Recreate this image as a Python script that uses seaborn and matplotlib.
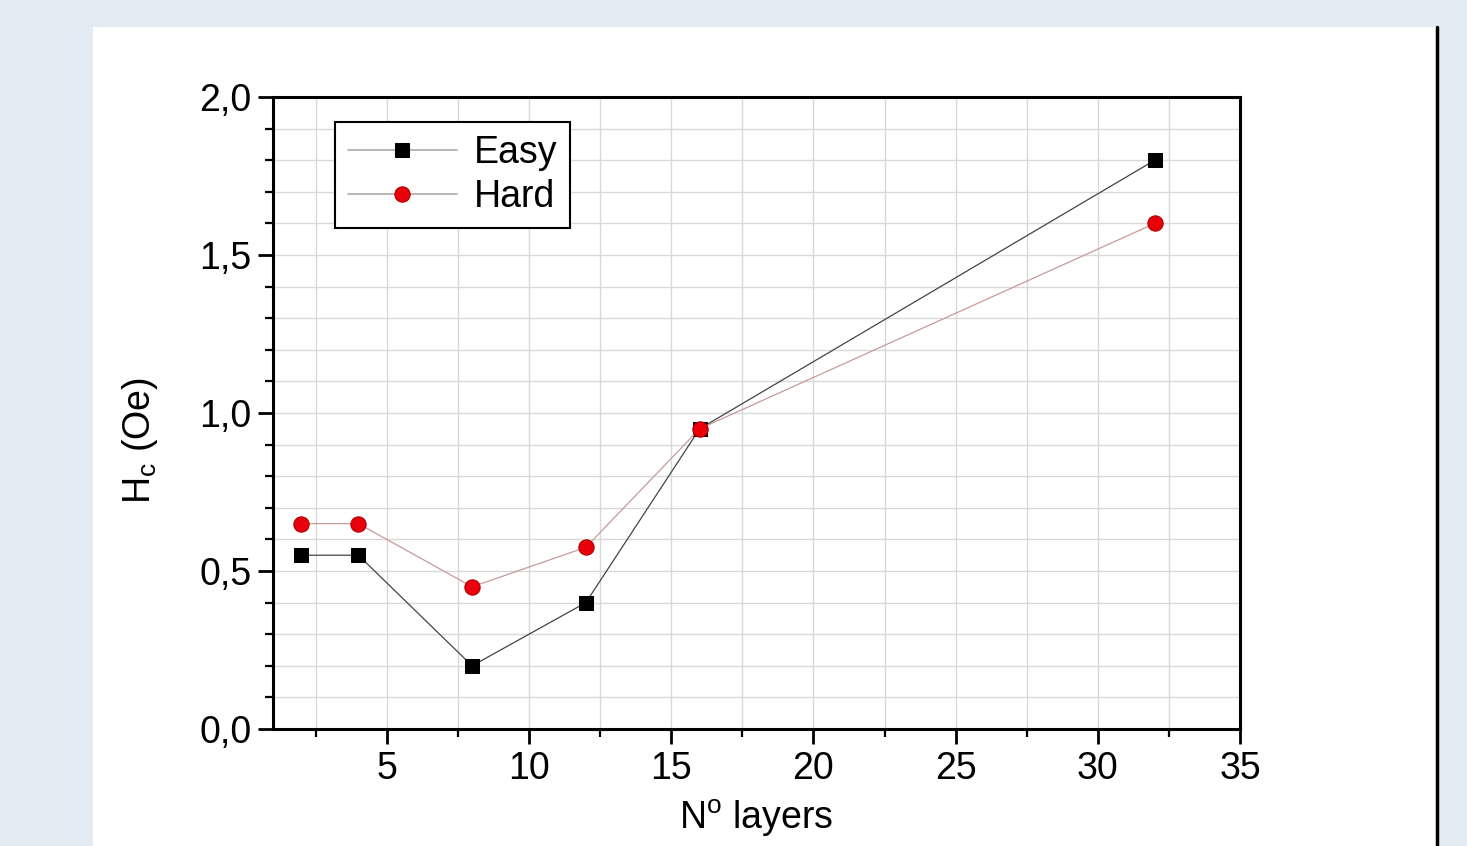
import numpy as np
import pandas as pd
import matplotlib
matplotlib.use('Agg')
import matplotlib.pyplot as plt
from matplotlib.patches import Rectangle
from matplotlib.ticker import MultipleLocator, FuncFormatter
import seaborn as sns

# data
layers = [2, 4, 8, 12, 16, 32]
hc_easy = [0.55, 0.55, 0.20, 0.40, 0.95, 1.80]
hc_hard = [0.65, 0.65, 0.45, 0.575, 0.95, 1.60]

sns.set_style('white')
plt.rcParams['font.family'] = ['Liberation Sans', 'DejaVu Sans']
plt.rcParams['mathtext.fontset'] = 'custom'
plt.rcParams['mathtext.rm'] = 'Liberation Sans'
plt.rcParams['mathtext.it'] = 'Liberation Sans'
plt.rcParams['text.color'] = 'black'
plt.rcParams['axes.labelcolor'] = 'black'

fig = plt.figure(figsize=(14.67, 8.46), dpi=100)
fig.patch.set_facecolor('#e3ebf5')
# white slide panel behind the plot
fig.patches.append(Rectangle((0.0634, 0.0), 0.916, 0.968, transform=fig.transFigure,
                             facecolor='white', edgecolor='none', zorder=-10))
fig.lines.append(plt.Line2D([0.9793, 0.9793], [0.0, 0.968], transform=fig.transFigure,
                            color='black', lw=2.5, zorder=-5))

ax = fig.add_axes([0.1861, 0.1383, 0.6592, 0.7470])
ax.set_zorder(5)
ax.set_facecolor('white')

df_easy = pd.DataFrame({'layers': layers, 'Hc': hc_easy})
df_hard = pd.DataFrame({'layers': layers, 'Hc': hc_hard})

sns.lineplot(data=df_easy, x='layers', y='Hc', ax=ax, color='#444444', lw=0.9,
             marker='s', markersize=10.5, markerfacecolor='black',
             markeredgecolor='black', label='Easy', zorder=3)
sns.lineplot(data=df_hard, x='layers', y='Hc', ax=ax, color='#c89a9a', lw=0.9,
             marker='o', markersize=11, markerfacecolor='#e8000b',
             markeredgecolor='#b00000', markeredgewidth=0.8, label='Hard', zorder=3)

ax.set_xlim(1, 35)
ax.set_ylim(0, 2.0)
ax.xaxis.set_major_locator(MultipleLocator(5))
ax.xaxis.set_minor_locator(MultipleLocator(2.5))
ax.yaxis.set_major_locator(MultipleLocator(0.5))
ax.yaxis.set_minor_locator(MultipleLocator(0.1))
ax.yaxis.set_major_formatter(FuncFormatter(lambda v, p: f'{v:.1f}'.replace('.', ',')))

ax.grid(True, which='both', color='#d9d9d9', lw=1.0)
ax.set_axisbelow(True)
for s in ax.spines.values():
    s.set_color('black')
    s.set_linewidth(2.2)

ax.tick_params(axis='both', which='both', bottom=True, left=True, top=False, right=False)
ax.tick_params(axis='both', which='major', direction='out', length=10.5, width=2,
               labelsize=27, colors='black', pad=5)
ax.tick_params(axis='both', which='minor', direction='out', length=6, width=1.6,
               colors='black')

ax.set_xlabel('N$^\\mathrm{o}$ layers', fontsize=27, labelpad=8)
ax.set_ylabel('H$_\\mathrm{c}$ (Oe)', fontsize=27)
ax.yaxis.set_label_coords(-0.117, 0.457)

leg = ax.legend(loc='upper left', bbox_to_anchor=(0.064, 0.96), borderaxespad=0,
                fontsize=27, frameon=True, fancybox=False, edgecolor='black',
                handlelength=2.9, borderpad=0.35, labelspacing=0.2,
                handletextpad=0.45, framealpha=1)
leg.get_frame().set_linewidth(1.5)
for h in leg.get_lines():
    h.set_color('#aaaaaa')
    h.set_linewidth(1.2)

fig.savefig('out.png', dpi=100, facecolor=fig.get_facecolor())
